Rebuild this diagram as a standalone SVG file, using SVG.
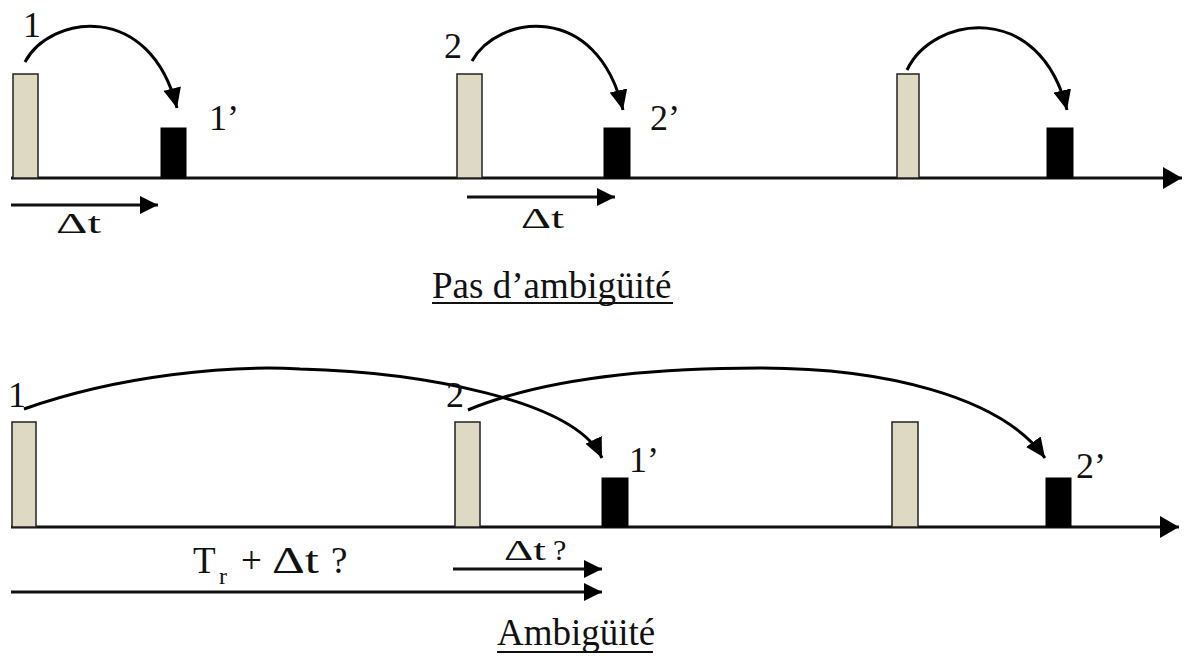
<svg xmlns="http://www.w3.org/2000/svg" width="1187" height="658" viewBox="0 0 1187 658">
<style>
.tx{font-family:"Liberation Serif","Times New Roman",serif;fill:#111;}
.lbl{font-size:36px;}
.big{font-size:37px;}
.tx2{font-size:30px;}
.em{fill:#DDD9C3;stroke:#222;stroke-width:1.5;}
.rc{fill:#000;stroke:#000;stroke-width:1;}
.ax{fill:none;stroke:#111;stroke-width:3;}
.arc{fill:none;stroke:#000;stroke-width:3;}
.ul{stroke:#111;stroke-width:2;}
</style>
<defs>
<marker id="ha" markerUnits="userSpaceOnUse" markerWidth="20" markerHeight="18" refX="20" refY="9" orient="auto" viewBox="0 0 20 18"><path d="M0,0 L20,9 L0,18 z" fill="#000"/></marker>
<marker id="hx" markerUnits="userSpaceOnUse" markerWidth="19" markerHeight="22" refX="19" refY="11" orient="auto" viewBox="0 0 19 22"><path d="M0,0 L19,11 L0,22 z" fill="#000"/></marker>
<marker id="hs" markerUnits="userSpaceOnUse" markerWidth="18" markerHeight="18" refX="18" refY="9" orient="auto" viewBox="0 0 18 18"><path d="M0,0 L18,9 L0,18 z" fill="#000"/></marker>
</defs>
<rect width="1187" height="658" fill="#fff"/>

<g id="connectors">
  <!-- time axes -->
  <line class="ax" x1="11" y1="178" x2="1182" y2="178" marker-end="url(#hx)"/>
  <line class="ax" x1="11" y1="527" x2="1179" y2="527" marker-end="url(#hx)"/>
  <!-- top arcs -->
  <path class="arc" d="M25,62 C50,15 150,0 177,108" marker-end="url(#ha)"/>
  <path class="arc" d="M472,61 C497,15 597,0 623,110" marker-end="url(#ha)"/>
  <path class="arc" d="M907,70 C933,15 1040,0 1067,110" marker-end="url(#ha)"/>
  <!-- top delta-t arrows -->
  <line class="ax" x1="11" y1="205" x2="158" y2="205" marker-end="url(#hs)"/>
  <line class="ax" x1="467" y1="197" x2="615" y2="197" marker-end="url(#hs)"/>
  <!-- bottom arcs -->
  <path class="arc" d="M24,409 C120,375 230,365 300,369 C420,372 575,400 602,458" marker-end="url(#ha)"/>
  <path class="arc" d="M468,410 C540,380 640,368 760,368 C880,368 1000,395 1045,458" marker-end="url(#ha)"/>
  <!-- bottom arrows -->
  <line class="ax" x1="453" y1="569" x2="602" y2="569" marker-end="url(#hs)"/>
  <line class="ax" x1="11" y1="592" x2="602" y2="592" marker-end="url(#hs)"/>
</g>

<g id="top-emit-1"><rect class="em" x="13" y="74" width="25" height="104"/><text class="tx lbl" x="23" y="37">1</text></g>
<g id="top-echo-1"><rect class="rc" x="161" y="128" width="25" height="50"/><text class="tx lbl" x="209" y="130">1’</text></g>
<g id="top-emit-2"><rect class="em" x="457" y="74" width="25" height="104"/><text class="tx lbl" x="444" y="58">2</text></g>
<g id="top-echo-2"><rect class="rc" x="604" y="128" width="26" height="50"/><text class="tx lbl" x="650" y="130">2’</text></g>
<g id="top-emit-3"><rect class="em" x="897" y="74" width="22" height="104"/></g>
<g id="top-echo-3"><rect class="rc" x="1047" y="128" width="26" height="50"/></g>

<g id="top-labels">
  <text class="tx tx2" x="56" y="233" textLength="45" lengthAdjust="spacingAndGlyphs">Δt</text>
  <text class="tx tx2" x="521" y="228" textLength="43" lengthAdjust="spacingAndGlyphs">Δt</text>
  <text class="tx big" x="432" y="298">Pas d’ambigüité</text>
  <line class="ul" x1="432" y1="303" x2="673" y2="303"/>
</g>

<g id="bot-emit-1"><rect class="em" x="12" y="422" width="24" height="105"/><text class="tx lbl" x="8" y="407">1</text></g>
<g id="bot-emit-2"><rect class="em" x="455" y="422" width="25" height="105"/><text class="tx lbl" x="446" y="407">2</text></g>
<g id="bot-echo-1"><rect class="rc" x="602" y="478" width="26" height="49"/><text class="tx lbl" x="629" y="472">1’</text></g>
<g id="bot-emit-3"><rect class="em" x="892" y="422" width="26" height="105"/></g>
<g id="bot-echo-2"><rect class="rc" x="1046" y="478" width="25" height="49"/><text class="tx lbl" x="1076" y="478">2’</text></g>

<g id="bottom-labels">
  <text class="tx big" x="193" y="573">T</text>
  <text class="tx" style="font-size:24px" x="219" y="584">r</text>
  <text class="tx big" x="241" y="573">+</text>
  <text class="tx big" x="272" y="573" textLength="47" lengthAdjust="spacingAndGlyphs">Δt</text>
  <text class="tx big" x="331" y="573">?</text>
  <text class="tx tx2" x="504" y="560" textLength="42" lengthAdjust="spacingAndGlyphs">Δt</text>
  <text class="tx tx2" x="553" y="560">?</text>
  <text class="tx big" x="497" y="645">Ambigüité</text>
  <line class="ul" x1="497" y1="652" x2="653" y2="652"/>
</g>
</svg>
